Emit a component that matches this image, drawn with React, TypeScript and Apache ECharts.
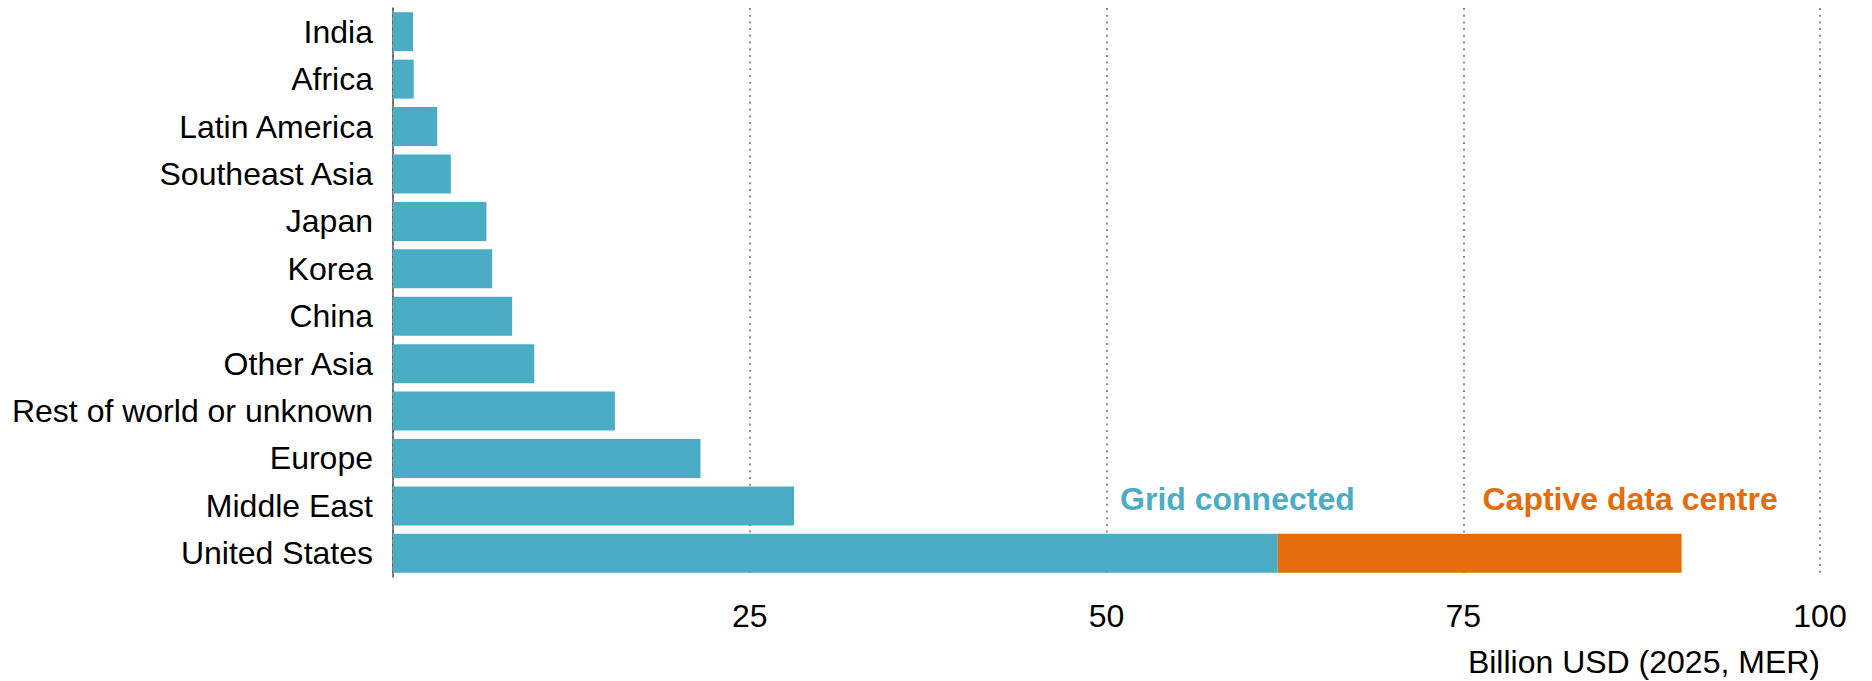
import React, { useEffect, useRef } from "react";
import * as echarts from "echarts";

const categories = [
  "India",
  "Africa",
  "Latin America",
  "Southeast Asia",
  "Japan",
  "Korea",
  "China",
  "Other Asia",
  "Rest of world or unknown",
  "Europe",
  "Middle East",
  "United States",
];
const gridConnected = [1.4, 1.45, 3.1, 4.05, 6.55, 6.95, 8.35, 9.9, 15.55, 21.55, 28.1, 62.0];
const captiveDataCentre = [0, 0, 0, 0, 0, 0, 0, 0, 0, 0, 0, 28.3];
const xTicks = [0, 25, 50, 75, 100];
const seriesNames = ["Grid connected", "Captive data centre"];
const axisTitle = "Billion USD (2025, MER)";
// value positions (in axis units) where the in-chart series labels start
const labelAnchors = [50.95, 76.35];

const TEAL = "#4BACC6";
const ORANGE = "#E46C0A";
const FONT = "Liberation Sans, Arial, sans-serif";

export default function App() {
  const ref = useRef<HTMLDivElement>(null);

  useEffect(() => {
    document.body.style.margin = "0";
    if (!ref.current) return;
    const chart = echarts.init(ref.current, undefined, { renderer: "svg" });
    const option: any = {
      animation: false,
      backgroundColor: "#ffffff",
      textStyle: { fontFamily: FONT },
      grid: { left: 393, right: 52, top: 8, bottom: 104, containLabel: false },
      xAxis: {
        type: "value",
        min: xTicks[0],
        max: xTicks[xTicks.length - 1],
        interval: 25,
        axisLine: { show: false },
        axisTick: { show: false },
        axisLabel: {
          color: "#000",
          fontSize: 32,
          fontFamily: FONT,
          margin: 23,
          formatter: (v: number) => (v === 0 ? "" : String(v)),
        },
        splitLine: {
          show: true,
          lineStyle: { color: "#8f8f8f", width: 2, type: [2, 4.7] },
        },
      },
      yAxis: {
        type: "category",
        data: categories,
        inverse: true,
        axisLine: { show: true, lineStyle: { color: "#555", width: 1.5 } },
        axisTick: { show: false },
        axisLabel: { color: "#000", fontSize: 32, fontFamily: FONT, margin: 20 },
        splitLine: { show: false },
      },
      series: [
        {
          name: seriesNames[0],
          type: "bar",
          stack: "total",
          data: gridConnected,
          barWidth: 39,
          itemStyle: { color: TEAL },
        },
        {
          name: seriesNames[1],
          type: "bar",
          stack: "total",
          data: captiveDataCentre.map((v) => (v === 0 ? "-" : v)),
          barWidth: 39,
          itemStyle: { color: ORANGE },
        },
      ],
    };
    chart.setOption(option);

    const usIdx = categories.length - 1;
    const p1 = chart.convertToPixel({ gridIndex: 0 }, [labelAnchors[0], usIdx]) as number[];
    const p2 = chart.convertToPixel({ gridIndex: 0 }, [labelAnchors[1], usIdx]) as number[];
    const labelY = p1[1] - 54;
    chart.setOption({
      graphic: [
        {
          type: "text",
          x: p1[0],
          y: labelY,
          style: {
            text: seriesNames[0],
            fill: TEAL,
            font: `bold 32px ${FONT}`,
            textAlign: "left",
            textVerticalAlign: "middle",
          },
        },
        {
          type: "text",
          x: p2[0],
          y: labelY,
          style: {
            text: seriesNames[1],
            fill: ORANGE,
            font: `bold 32px ${FONT}`,
            textAlign: "left",
            textVerticalAlign: "middle",
          },
        },
        {
          type: "text",
          right: 52,
          top: 646,
          style: {
            text: axisTitle,
            fill: "#000",
            font: `32px ${FONT}`,
          },
        },
      ],
    });

    return () => chart.dispose();
  }, []);

  return <div ref={ref} style={{ width: 1872, height: 681 }} />;
}
